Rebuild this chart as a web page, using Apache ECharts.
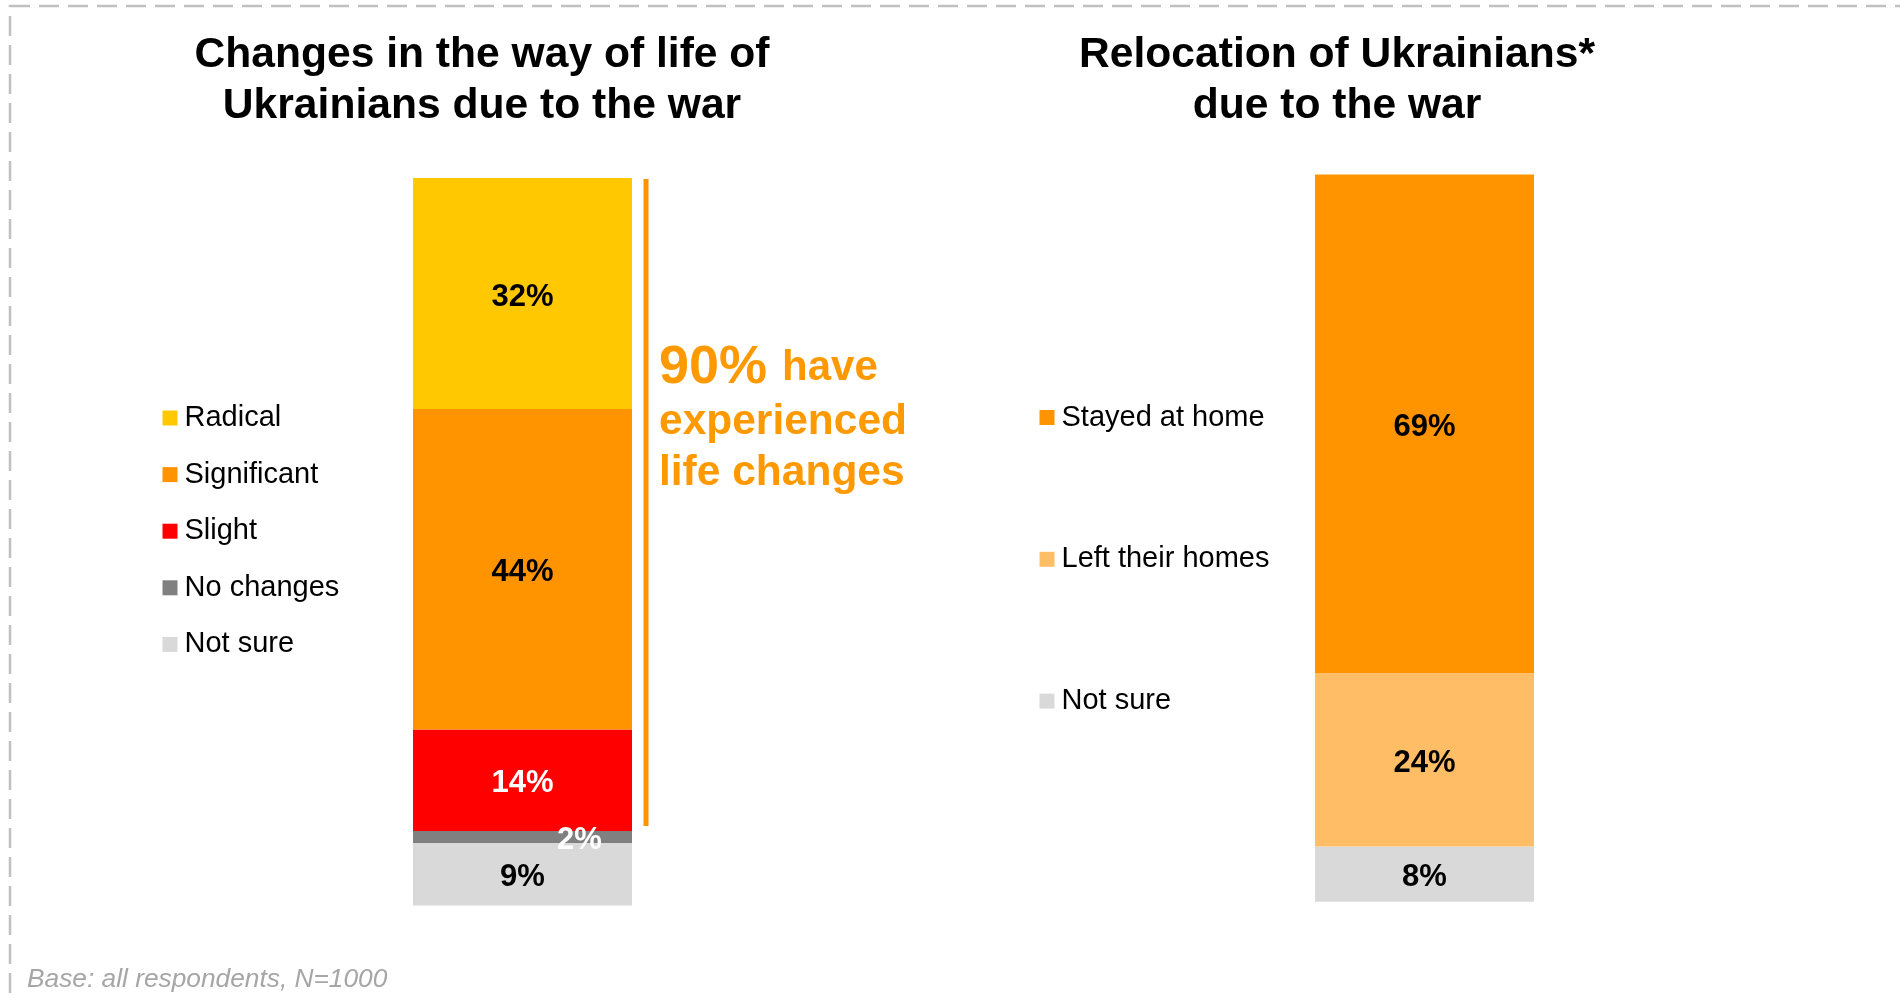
<!DOCTYPE html>
<html>
<head>
<meta charset="utf-8">
<script src="https://cdn.jsdelivr.net/npm/echarts@6/dist/echarts.min.js"></script>
<style>html,body{margin:0;padding:0;background:#fff;}#c{width:1900px;height:998px;}</style>
</head>
<body>
<div id="c"></div>
<script>
// ---- data ----
var lifeCategories = ['Radical', 'Significant', 'Slight', 'No changes', 'Not sure'];
var lifeValues = [31.75, 44.05, 13.95, 1.65, 8.6];
var lifeColors = ['#FFC800', '#FF9400', '#FF0000', '#808080', '#D9D9D9'];
var lifeLabelColors = ['#000', '#000', '#fff', '#fff', '#000'];

var relocCategories = ['Stayed at home', 'Left their homes', 'Not sure'];
var relocValues = [68.6, 23.8, 7.6];
var relocColors = ['#FF9400', '#FFBE66', '#D9D9D9'];

var FONT = '"Liberation Sans", Arial, Helvetica, sans-serif';

var chart = echarts.init(document.getElementById('c'), null, {renderer: 'canvas'});

function makeSeries(cats, vals, colors, labelColors, gridIdx, stackName) {
  var out = [];
  // stack bottom-up: last category at bottom
  for (var i = cats.length - 1; i >= 0; i--) {
    var lab = {
      show: true,
      position: 'inside',
      offset: [0, 3.5],
      formatter: function (p) { return Math.round(p.value) + '%'; },
      color: labelColors ? labelColors[i] : '#000',
      fontFamily: FONT,
      fontWeight: 'bold',
      fontSize: 31
    };
    if (cats[i] === 'No changes') { lab.offset = [57, 3.5]; }
    out.push({
      name: cats[i],
      type: 'bar',
      stack: stackName,
      xAxisIndex: gridIdx,
      yAxisIndex: gridIdx,
      barWidth: '100%',
      itemStyle: {color: colors[i]},
      label: lab,
      emphasis: {disabled: true},
      data: [vals[i]]
    });
  }
  return out;
}

var series = makeSeries(lifeCategories, lifeValues, lifeColors, lifeLabelColors, 0, 'life')
  .concat(makeSeries(relocCategories, relocValues, relocColors, null, 1, 'reloc'));

var option = {
  animation: false,
  backgroundColor: '#fff',
  textStyle: {fontFamily: FONT},
  title: [
    {text: 'Changes in the way of life of\nUkrainians due to the war', left: 477, top: 24.5, textAlign: 'center',
     textStyle: {fontFamily: FONT, fontSize: 42.6, fontWeight: 'bold', color: '#000', lineHeight: 51}},
    {text: 'Relocation of Ukrainians*\ndue to the war', left: 1332, top: 24.5, textAlign: 'center',
     textStyle: {fontFamily: FONT, fontSize: 42.6, fontWeight: 'bold', color: '#000', lineHeight: 51}},
    {text: 'Base: all respondents, N=1000', left: 22, top: 962,
     textStyle: {fontFamily: FONT, fontSize: 26.3, fontWeight: 'normal', fontStyle: 'italic', color: '#A6A6A6'}}
  ],
  legend: [
    {data: lifeCategories, orient: 'vertical', left: 157.5, top: 398, icon: 'rect', itemWidth: 15, itemHeight: 15,
     itemGap: 26.6, selectedMode: false,
     textStyle: {fontFamily: FONT, fontSize: 29, color: '#000', lineHeight: 30, padding: [0, 0, 0, 2]}},
    {data: relocCategories, orient: 'vertical', left: 1034.5, top: 397.5, icon: 'rect', itemWidth: 15, itemHeight: 15,
     itemGap: 111.8, selectedMode: false,
     textStyle: {fontFamily: FONT, fontSize: 29, color: '#000', lineHeight: 30, padding: [0, 0, 0, 2]}}
  ],
  grid: [
    {left: 413, width: 219, top: 178, height: 727.5},
    {left: 1315, width: 219, top: 174.5, height: 727.2}
  ],
  xAxis: [
    {type: 'category', gridIndex: 0, data: [''], show: false},
    {type: 'category', gridIndex: 1, data: [''], show: false}
  ],
  yAxis: [
    {type: 'value', gridIndex: 0, min: 0, max: 100, show: false},
    {type: 'value', gridIndex: 1, min: 0, max: 100, show: false}
  ],
  series: series
};
chart.setOption(option);

// annotation bracket derived from the stacked scale
var lowerSum = lifeValues[3] + lifeValues[4];
var yTop = chart.convertToPixel({yAxisIndex: 0}, 100);
var yBot = chart.convertToPixel({yAxisIndex: 0}, lowerSum) - 5;
var annoColor = '#FF9900';
chart.setOption({
  graphic: [
    {type: 'rect', silent: true, z: -10,
     shape: {x: 10, y: 6, width: 2400, height: 2400},
     style: {fill: 'none', stroke: '#C0C0C0', lineWidth: 2.5, lineDash: [20, 9]}},
    {type: 'line', silent: true,
     shape: {x1: 646, y1: yTop + 1, x2: 646, y2: yBot},
     style: {stroke: '#FF9400', lineWidth: 5}},
    {type: 'text', silent: true, x: 659, y: 368,
     style: {text: '{b|90%}{sp| }{s|have}', verticalAlign: 'middle', fill: annoColor,
       rich: {b: {fontFamily: FONT, fontSize: 54, fontWeight: 'bold', fill: annoColor},
              sp: {fontFamily: FONT, fontSize: 54, fontWeight: 'bold', fill: annoColor},
              s: {fontFamily: FONT, fontSize: 42, fontWeight: 'bold', fill: annoColor}}}},
    {type: 'text', silent: true, x: 659, y: 422,
     style: {text: 'experienced', verticalAlign: 'middle', fill: annoColor,
       font: 'bold 42.5px ' + FONT}},
    {type: 'text', silent: true, x: 659, y: 473,
     style: {text: 'life changes', verticalAlign: 'middle', fill: annoColor,
       font: 'bold 42.5px ' + FONT}}
  ]
});
</script>
</body>
</html>
